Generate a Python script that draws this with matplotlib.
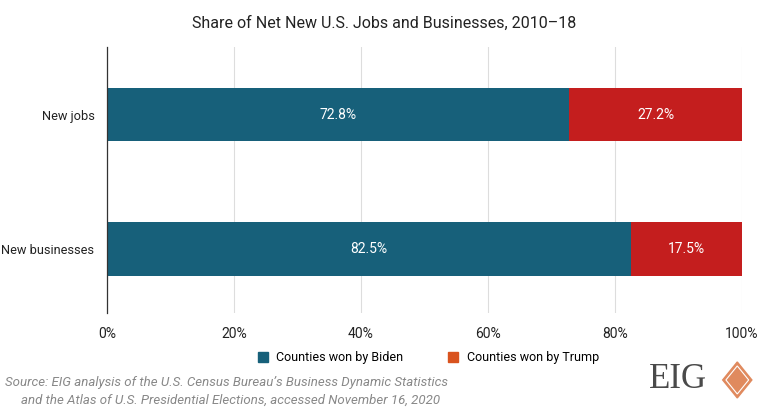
import numpy as np
import matplotlib.pyplot as plt
from matplotlib.patches import Polygon

plt.rcParams['font.family'] = ['Roboto', 'DejaVu Sans']

categories = ['New businesses', 'New jobs']
biden = [82.5, 72.8]
trump = [17.5, 27.2]
series_names = ['Counties won by Biden', 'Counties won by Trump']
bar_colors = ['#17607a', '#c41e1e']
legend_colors = ['#17607a', '#d9531e']

fig = plt.figure(figsize=(7.68, 4.09), dpi=100)
ax = fig.add_axes([0.1393, 0.235, 0.8268, 0.65])

y = np.arange(len(categories))
ax.barh(y, biden, height=0.4, color=bar_colors[0])
ax.barh(y, trump, left=biden, height=0.4, color=bar_colors[1])

for yi, b, t in zip(y, biden, trump):
    ax.text(b / 2, yi, f'{b:.1f}%', ha='center', va='center', color='white', fontsize=10)
    ax.text(b + t / 2, yi, f'{t:.1f}%', ha='center', va='center', color='white', fontsize=10)

ax.set_xlim(0, 100)
ax.set_ylim(-0.47, 1.5)
ax.set_xticks(np.arange(0, 101, 20))
ax.set_xticklabels([f'{v}%' for v in range(0, 101, 20)], fontsize=10, color='#222222')
ax.set_yticks(y)
ax.set_yticklabels(categories, fontsize=9.2, color='#222222')
ax.tick_params(length=0, pad=10)
ax.tick_params(axis='y', pad=9)
ax.grid(axis='x', color='#dddddd', linewidth=0.8)
ax.set_axisbelow(True)
for s in ['top', 'right', 'bottom']:
    ax.spines[s].set_visible(False)
ax.spines['left'].set_color('#333333')
ax.spines['left'].set_linewidth(0.9)

fig.text(0.5, 0.942, 'Share of Net New U.S. Jobs and Businesses, 2010–18',
         ha='center', va='center', fontsize=11.5, color='#222222')

# legend
handles = [plt.Line2D([], [], marker='s', linestyle='', color=c, markersize=6.5) for c in legend_colors]
fig.legend(handles, series_names, loc='center', bbox_to_anchor=(0.553, 0.125), ncol=2,
           frameon=False, fontsize=9, handletextpad=0.1, columnspacing=3.0)

fig.text(0.007, 0.064, 'Source: EIG analysis of the U.S. Census Bureau\u2019s Business Dynamic Statistics',
         fontsize=9.5, style='italic', color='#888888', va='center')
fig.text(0.027, 0.022, 'and the Atlas of U.S. Presidential Elections, accessed November 16, 2020',
         fontsize=9.5, style='italic', color='#888888', va='center')

# logo
fig.text(0.845, 0.071, 'EIG', family='Liberation Serif', fontsize=25, color='#4a4a4a',
         ha='left', va='center')
cx, cy, w, h = 0.96, 0.071, 0.019, 0.044
fig.patches.append(Polygon([[cx - w, cy], [cx, cy + h], [cx + w, cy], [cx, cy - h]],
                           closed=True, transform=fig.transFigure, facecolor='#e08a5e',
                           edgecolor='#e08a5e'))
w2, h2 = w * 0.78, h * 0.78
fig.patches.append(Polygon([[cx - w2, cy], [cx, cy + h2], [cx + w2, cy], [cx, cy - h2]],
                           closed=True, transform=fig.transFigure, facecolor='none',
                           edgecolor='white', linewidth=0.8))

fig.savefig('out.png', dpi=100)
